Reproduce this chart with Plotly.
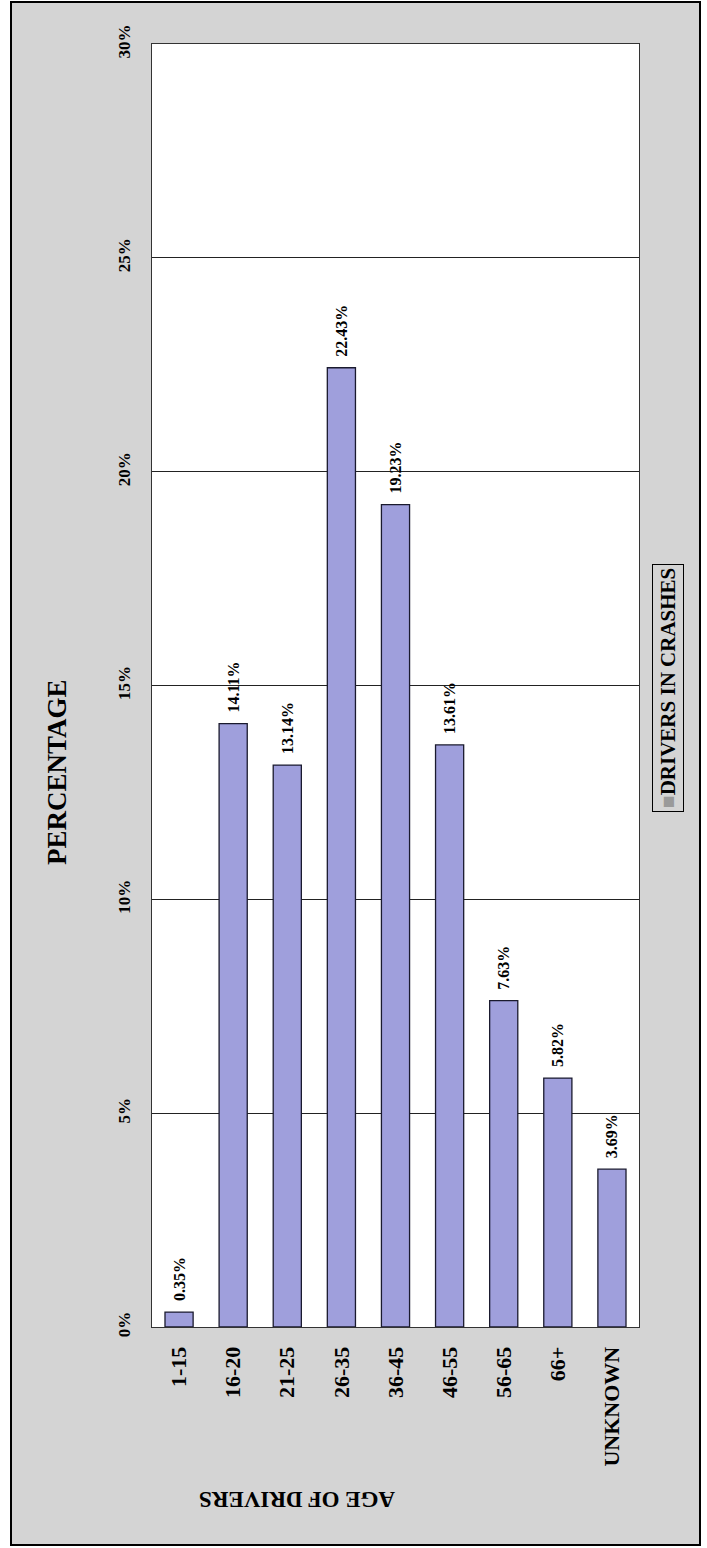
import plotly.graph_objects as go

categories = ["1-15", "16-20", "21-25", "26-35", "36-45", "46-55", "56-65", "66+", "UNKNOWN"]
values = [0.35, 14.11, 13.14, 22.43, 19.23, 13.61, 7.63, 5.82, 3.69]
labels = ["0.35%", "14.11%", "13.14%", "22.43%", "19.23%", "13.61%", "7.63%", "5.82%", "3.69%"]
y_ticks = [0, 5, 10, 15, 20, 25, 30]
y_ticktext = ["0%", "5%", "10%", "15%", "20%", "25%", "30%"]

W, H = 707, 1548
L, R, T, B = 152, 639, 44, 1327
def px(x): return (x - L) / (R - L)
def py(y): return (B - y) / (B - T)

FONT = "Liberation Serif"

fig = go.Figure(go.Bar(
    x=categories, y=values, text=[f"\u00a0\u00a0<b>{t}</b>" for t in labels],
    textposition="outside", textangle=-90, constraintext="none",
    textfont=dict(family=FONT, size=16, color="black"),
    marker=dict(color="#9f9fdc", line=dict(color="#1a1a2e", width=1.3)),
    cliponaxis=False, width=0.52,
))

fig.update_layout(
    width=W, height=H,
    margin=dict(l=L, r=W - R, t=T, b=H - B, pad=0),
    paper_bgcolor="white", plot_bgcolor="rgba(0,0,0,0)",
    showlegend=False,
    font=dict(family=FONT, color="black"),
    shapes=[
        dict(type="rect", xref="paper", yref="paper", layer="below",
             x0=px(11), x1=px(700), y0=py(1545), y1=py(2),
             fillcolor="#d4d4d4", line=dict(color="black", width=2)),
        dict(type="rect", xref="paper", yref="paper", layer="below",
             x0=0, x1=1, y0=0, y1=1, fillcolor="white", line=dict(width=0)),
    ],
    annotations=[
        dict(text="<b>PERCENTAGE</b>", xref="paper", yref="paper", x=px(57), y=py(772),
             textangle=-90, showarrow=False, font=dict(family=FONT, size=27, color="black"),
             xanchor="center", yanchor="middle"),
        dict(text="<b>AGE OF DRIVERS</b>", xref="paper", yref="paper", x=px(297), y=py(1500),
             textangle=180, showarrow=False, font=dict(family=FONT, size=23, color="black"),
             xanchor="center", yanchor="middle"),
        dict(text="<span style='color:#9a9a9a'>■</span><b>DRIVERS IN CRASHES</b>",
             xref="paper", yref="paper", x=px(668), y=py(688),
             textangle=-90, showarrow=False, font=dict(family=FONT, size=21, color="black"),
             xanchor="center", yanchor="middle", bordercolor="black", borderwidth=1,
             borderpad=3, bgcolor="#d4d4d4"),
    ],
)

fig.update_xaxes(
    tickangle=-90, tickfont=dict(family=FONT, size=22, color="black"),
    showline=True, mirror=True, linecolor="#333333", linewidth=1,
    ticks="", showgrid=False, ticklabelstandoff=10,
    tickprefix="<b>", ticksuffix="</b>",
)
fig.update_yaxes(
    range=[0, 30], tickvals=y_ticks, ticktext=[f"<b>{t}</b>" for t in y_ticktext],
    tickangle=-90, tickfont=dict(family=FONT, size=17, color="black"),
    showline=True, mirror=True, linecolor="#333333", linewidth=1,
    showgrid=True, gridcolor="#222222", gridwidth=1, zeroline=False,
    ticks="", ticklabelstandoff=14,
)

fig.write_html("out.html")
